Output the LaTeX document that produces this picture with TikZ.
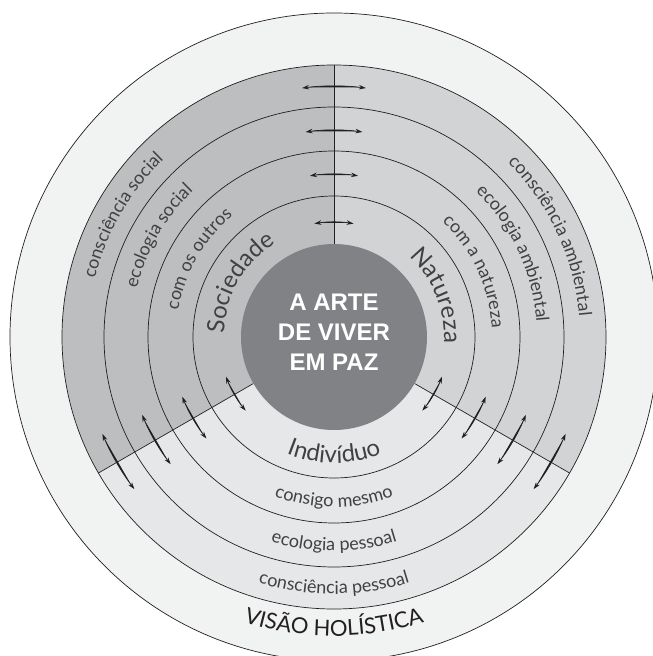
\documentclass[tikz,border=0pt]{standalone}
\usepackage{fontspec}
\setmainfont{Lato}
\newfontfamily\corefont{Liberation Sans}
\usetikzlibrary{arrows.meta, decorations.text}
\definecolor{outergray}{HTML}{F1F2F2}
\definecolor{socgray}{HTML}{BCBEC0}
\definecolor{natgray}{HTML}{D1D3D4}
\definecolor{indgray}{HTML}{E6E7E8}
\definecolor{coregray}{HTML}{808285}
\definecolor{ink}{HTML}{231F20}
\definecolor{labelink}{HTML}{414042}
\newcommand{\biglabel}{\color{labelink}\fontsize{24}{28}\selectfont}
\newcommand{\smalllabel}{\color{labelink}\fontsize{18}{22}\selectfont}
\newcommand{\titlelabel}{\color{ink}\fontsize{22}{26}\selectfont}

\begin{document}
\begin{tikzpicture}[x=1pt, y=1pt, >={Stealth[length=7pt,width=4.5pt]},
    ring/.style={draw=ink, line width=0.7pt},
    exchange/.style={<->, draw=ink, fill=ink, line width=0.7pt},
    curvedlabel/.style={decorate, decoration={text along path, text align=center, text={#1}}},
    core/.style={text=white, font=\corefont\bfseries\fontsize{24}{30}\selectfont, align=center}]
\useasboundingbox (-334,-319) rectangle (319,337);
% sectors
\fill[outergray] (0,0) circle[radius=324];
\fill[socgray] (0,0) -- (90:272) arc[start angle=90, end angle=210, radius=272] -- cycle;
\fill[natgray] (0,0) -- (-30:272) arc[start angle=-30, end angle=90, radius=272] -- cycle;
\fill[indgray] (0,0) -- (210:272) arc[start angle=210, end angle=330, radius=272] -- cycle;
% rings
\foreach \r in {141,186,230,272,324}{
    \draw[ring] (0,0) circle[radius=\r];
}
\foreach \a in {90,210,330}{
    \draw[ring] (\a:93) -- (\a:272);
}
\fill[coregray] (0,0) circle[radius=93];
\node[core] (core) at (0,5) {A ARTE\\DE VIVER\\EM PAZ};
% arrows across the borders
\foreach \a in {90,210,330}{
    \foreach \r/\w in {251/7.3, 207/7.9, 163/8.5, 115/9.8}{
        \draw[exchange] ({\a+\w}:\r) arc[start angle={\a+\w}, end angle={\a-\w}, radius=\r];
    }
}
% Sociedade
\path[curvedlabel={|\smalllabel|consciência social}] (185:246) arc[start angle=185, end angle=115, radius=246];
\path[curvedlabel={|\smalllabel|ecologia social}] (185:203) arc[start angle=185, end angle=115, radius=203];
\path[curvedlabel={|\smalllabel|com os outros}] (185:158) arc[start angle=185, end angle=115, radius=158];
\path[curvedlabel={|\biglabel|Sociedade}] (190:110) arc[start angle=190, end angle=110, radius=110];
% Natureza
\path[curvedlabel={|\smalllabel|consciência ambiental}] (65:246) arc[start angle=65, end angle=-15, radius=246];
\path[curvedlabel={|\smalllabel|ecologia ambiental}] (65:203) arc[start angle=65, end angle=-15, radius=203];
\path[curvedlabel={|\smalllabel|com a natureza}] (65:158) arc[start angle=65, end angle=-15, radius=158];
\path[curvedlabel={|\biglabel|Natureza}] (62:110) arc[start angle=62, end angle=-18, radius=110];
% Individuo
\path[curvedlabel={|\biglabel|Indivíduo}] (230:126) arc[start angle=230, end angle=310, radius=126];
\path[curvedlabel={|\smalllabel|consigo mesmo}] (230:170) arc[start angle=230, end angle=310, radius=170];
\path[curvedlabel={|\smalllabel|ecologia pessoal}] (230:214) arc[start angle=230, end angle=310, radius=214];
\path[curvedlabel={|\smalllabel|consciência pessoal}] (230:257) arc[start angle=230, end angle=310, radius=257];
\path[curvedlabel={|\titlelabel|VISÃO HOLÍSTICA}] (240:299) arc[start angle=240, end angle=300, radius=299];
\end{tikzpicture}
\end{document}
